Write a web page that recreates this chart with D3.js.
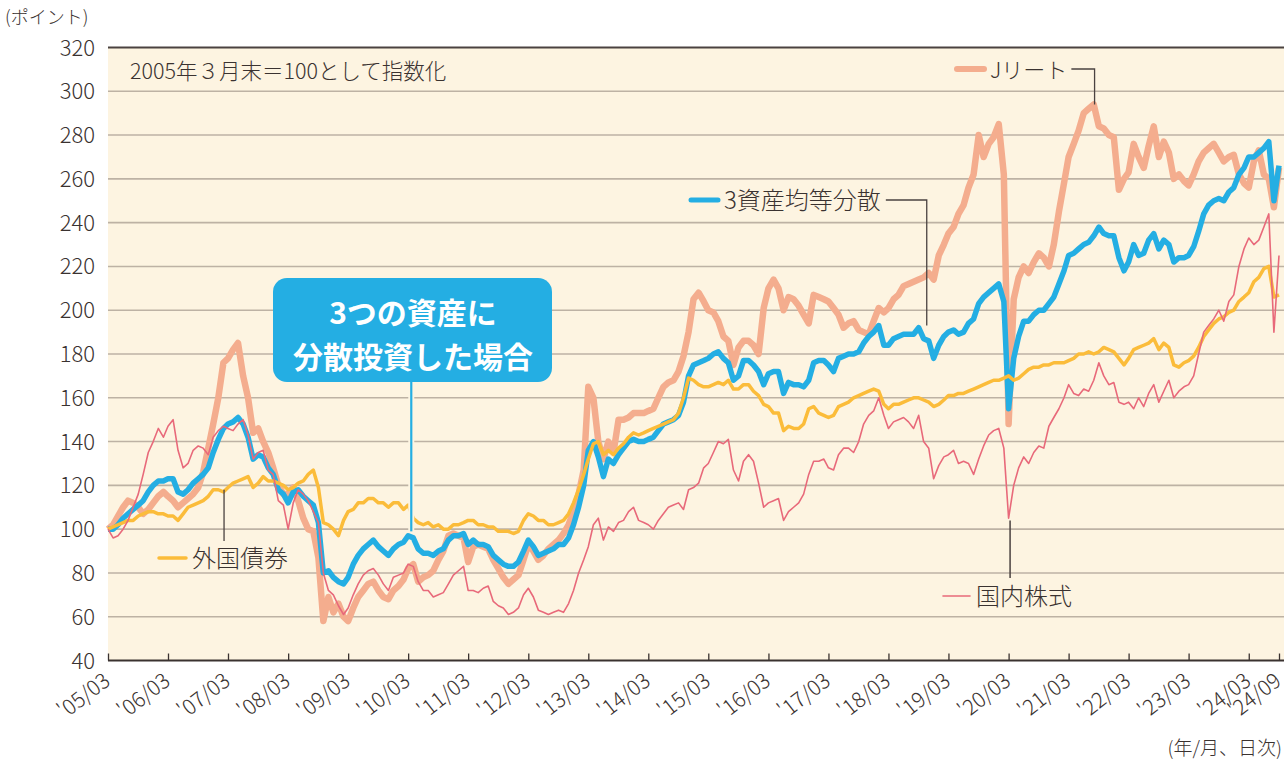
<!DOCTYPE html>
<html lang="ja">
<head>
<meta charset="utf-8">
<script src="https://cdn.jsdelivr.net/npm/d3@7"></script>
<style>
  body { margin: 0; background: #fff; }
  svg { display: block; font-family: "Noto Sans CJK JP", "Noto Sans", sans-serif; font-weight: 300; }
</style>
</head>
<body>
<svg id="chart"></svg>
<script>
// monthly values, 2005/03 .. 2024/09 (index, 2005/03 = 100)
// one row per year, March -> February
const jreit = [
  100,102,106,110,113,112,110,107,109,112,115,117,
  115,113,110,112,114,116,119,126,137,148,160,176,
  178,182,185,170,160,144,146,140,135,128,120,116,
  116,119,113,105,100,99,87,58,69,62,66,60,
  58,64,69,72,75,76,72,69,68,72,74,77,
  82,84,76,78,79,81,86,90,97,98,97,96,
  85,92,93,92,91,86,82,78,75,77,79,86,
  93,90,86,88,91,93,95,98,102,108,116,127,
  165,160,140,132,140,135,150,150,151,153,153,153,
  154,155,160,165,167,168,172,179,190,205,208,204,
  200,199,195,188,186,175,183,186,186,184,180,201,
  210,214,210,200,206,205,202,198,194,207,206,205,
  204,201,198,192,194,195,191,190,189,195,201,199,
  201,205,207,211,212,213,214,215,217,214,225,230,
  235,238,244,248,256,262,280,270,276,279,285,262,
  148,205,215,220,217,222,226,224,220,230,245,258,
  270,276,282,290,292,294,284,283,280,279,255,260,
  263,276,270,265,275,284,270,277,272,260,262,259,
  257,262,268,272,274,276,272,268,270,271,262,258,
  256,268,273,262,260,247,265
];

const balanced = [
  100,100,102,105,107,109,111,113,117,120,122,122,
  123,123,117,116,118,121,123,125,128,135,141,146,
  148,149,151,148,142,132,134,133,128,125,118,116,
  112,117,118,115,113,111,103,80,81,78,76,75,
  78,84,88,91,93,95,92,90,88,91,93,94,
  97,96,91,89,89,88,90,91,95,97,97,98,
  93,95,93,93,92,88,86,84,83,83,85,90,
  95,92,88,89,90,91,93,93,96,102,110,120,
  136,140,133,124,132,130,134,137,140,141,140,140,
  141,142,145,148,149,150,152,158,170,175,176,177,
  178,180,181,178,176,168,170,177,177,175,172,166,
  171,172,172,162,167,166,166,165,168,176,177,177,
  175,172,178,179,180,180,181,185,188,190,193,184,
  184,187,188,189,189,189,192,187,186,178,184,188,
  190,191,189,190,194,196,203,206,208,210,212,204,
  155,178,188,195,195,198,200,200,203,206,212,218,
  225,226,228,230,231,234,238,235,234,234,224,218,
  222,230,225,226,232,235,228,232,230,222,224,224,
  225,229,236,244,248,250,251,250,254,256,262,265,
  270,270,272,274,277,250,266
];

const foreignBond = [
  100,101,102,103,104,104,106,107,108,108,107,107,
  106,106,104,107,110,111,112,113,115,118,118,117,
  119,121,122,123,124,119,121,124,122,122,121,120,
  118,119,121,122,125,127,119,103,102,100,97,104,
  108,109,112,112,114,114,112,112,110,112,112,109,
  111,105,103,102,103,101,102,100,100,102,102,103,
  104,104,102,102,101,101,99,99,99,98,99,104,
  107,106,104,104,102,102,103,104,107,112,118,125,
  132,139,140,134,136,134,137,139,142,144,143,144,
  145,146,147,148,149,150,153,160,169,168,166,165,
  165,166,167,166,168,164,164,166,166,163,161,157,
  156,153,153,145,147,146,146,148,155,156,153,152,
  151,152,156,157,158,160,161,162,163,164,163,157,
  155,157,157,158,159,160,160,159,158,156,157,159,
  161,161,162,162,163,164,165,166,167,168,168,169,
  170,168,169,171,173,174,174,175,175,176,176,176,
  177,178,180,180,181,180,181,183,182,181,178,175,
  178,182,183,184,185,187,182,185,183,175,174,176,
  177,179,183,188,191,194,196,197,199,200,204,206,
  208,213,215,219,220,206,207
];

const domesticStock = [
  100,96,97,100,104,110,116,125,135,140,146,142,
  147,150,136,128,130,136,138,137,134,142,145,147,
  146,145,148,150,143,132,135,136,127,125,113,111,
  100,112,118,116,113,108,103,80,72,70,65,61,
  64,70,75,79,81,82,79,75,72,78,79,80,
  84,83,76,72,72,69,70,71,75,79,81,83,
  72,72,71,73,74,67,65,64,61,62,64,70,
  73,69,63,62,61,62,63,62,66,72,80,86,
  92,102,105,95,101,99,103,104,108,110,104,103,
  102,100,104,107,110,111,112,109,118,119,121,128,
  130,135,140,139,141,127,122,131,134,131,121,110,
  112,113,114,104,108,110,112,116,125,131,131,132,
  128,127,134,137,137,135,140,148,152,154,160,152,
  146,149,150,151,149,146,152,140,137,123,129,133,
  134,136,130,131,130,125,132,138,143,145,146,137,
  105,120,128,133,130,135,138,137,147,151,155,160,
  166,162,161,164,163,168,176,170,166,167,158,157,
  158,155,160,156,162,166,158,163,168,160,163,165,
  166,170,180,190,193,196,200,195,204,207,220,228,
  233,230,232,238,244,190,225
];

const xTickLabels = ["'05/03","'06/03","'07/03","'08/03","'09/03","'10/03","'11/03","'12/03",
  "'13/03","'14/03","'15/03","'16/03","'17/03","'18/03","'19/03","'20/03","'21/03",
  "'22/03","'23/03","'24/03","'24/09"];
const yTicks = [40,60,80,100,120,140,160,180,200,220,240,260,280,300,320];

const months = d3.range(jreit.length).map(i => d3.timeMonth.offset(new Date(2005, 2, 1), i));
const parseTick = s => new Date(2000 + +s.slice(1, 3), +s.slice(4, 6) - 1, 1);

const W = 1285, H = 762;
const plot = { left: 108, right: 1284, top: 47.5, bottom: 660.5 };

const svg = d3.select('#chart').attr('width', W).attr('height', H);

const x = d3.scaleTime()
  .domain([months[0], months[months.length - 1]])
  .range([plot.left, 1279]);
const y = d3.scaleLinear()
  .domain([40, 320])
  .range([plot.bottom, plot.top]);

const ink = '#3a3230';

// plot background
svg.append('rect')
  .attr('x', plot.left).attr('y', plot.top)
  .attr('width', plot.right - plot.left).attr('height', plot.bottom - plot.top)
  .attr('fill', '#fdf4e1');

// grid lines
svg.append('g').selectAll('line')
  .data(yTicks.filter(d => d > 40 && d < 320))
  .join('line')
  .attr('x1', plot.left).attr('x2', plot.right)
  .attr('y1', d => y(d)).attr('y2', d => y(d))
  .attr('stroke', '#bdb2a4').attr('stroke-width', 1.6);

// top border
svg.append('line')
  .attr('x1', plot.left).attr('x2', plot.right)
  .attr('y1', y(320)).attr('y2', y(320))
  .attr('stroke', '#4a4240').attr('stroke-width', 2);

// y labels
svg.append('g').selectAll('text')
  .data(yTicks)
  .join('text')
  .attr('x', 95).attr('y', d => y(d) + 8)
  .attr('text-anchor', 'end')
  .attr('font-size', 22)
  .attr('fill', ink)
  .text(d => d);

// x axis
const xAxis = d3.axisBottom(x)
  .tickValues(xTickLabels.map(parseTick))
  .tickSize(-7)
  .tickFormat((d, i) => xTickLabels[i]);

const xg = svg.append('g')
  .attr('transform', `translate(0,${plot.bottom})`)
  .call(xAxis);
xg.select('.domain').remove();
xg.selectAll('.tick line').attr('stroke', ink).attr('stroke-width', 1.3);
xg.selectAll('.tick text')
  .attr('fill', ink)
  .attr('font-size', 21)
  .attr('font-family', '"Noto Sans CJK JP", "Noto Sans", sans-serif')
  .attr('font-weight', 300)
  .attr('text-anchor', 'end')
  .attr('dy', 0).attr('y', 0)
  .attr('transform', 'translate(3,23) rotate(-38)');
svg.append('line')
  .attr('x1', plot.left).attr('x2', plot.right)
  .attr('y1', plot.bottom).attr('y2', plot.bottom)
  .attr('stroke', ink).attr('stroke-width', 2.2);

// series
const line = d3.line()
  .x((d, i) => x(months[i]))
  .y(d => y(d))
  .curve(d3.curveLinear);

const series = [
  { values: jreit, color: '#f4ad8e', width: 6.5 },
  { values: balanced, color: '#24aee3', width: 5.5 },
  { values: foreignBond, color: '#fbbc3a', width: 3.5 },
  { values: domesticStock, color: '#e8697a', width: 1.6 }
];

svg.append('g').selectAll('path')
  .data(series)
  .join('path')
  .attr('d', d => line(d.values))
  .attr('fill', 'none')
  .attr('stroke', d => d.color)
  .attr('stroke-width', d => d.width)
  .attr('stroke-linejoin', 'round');

// notes
svg.append('text')
  .attr('x', 5).attr('y', 24)
  .attr('font-size', 18).attr('fill', ink)
  .text('(ポイント)');
svg.append('text')
  .attr('x', 130).attr('y', 79)
  .attr('font-size', 21.5).attr('fill', ink)
  .text('2005年３月末＝100として指数化');
svg.append('text')
  .attr('x', 1282).attr('y', 755)
  .attr('text-anchor', 'end')
  .attr('font-size', 19).attr('fill', ink)
  .text('(年/月、日次)');

// series labels with leader lines
const leader = '#4a4240';

function label(opt) {
  const g = svg.append('g');
  g.append('line')
    .attr('x1', opt.mx).attr('x2', opt.mx + 27)
    .attr('y1', opt.ly).attr('y2', opt.ly)
    .attr('stroke', opt.color).attr('stroke-width', opt.width)
    .attr('stroke-linecap', 'round');
  const t = g.append('text')
    .attr('x', opt.mx + 33).attr('y', opt.ly + 8.5)
    .attr('font-size', opt.size || 24).attr('fill', ink)
    .text(opt.text);
  return t;
}

// Jリート
let t = label({ text: 'Jリート', mx: 957, ly: 69, color: '#f4ad8e', width: 6, size: 22 });
let tEnd = 990 + t.node().getComputedTextLength() + 4;
let px = x(new Date(2021, 7, 6));
svg.append('path')
  .attr('d', `M${tEnd},69 H${px} V${y(294)}`)
  .attr('fill', 'none').attr('stroke', leader).attr('stroke-width', 1.3);

// 3資産均等分散
t = label({ text: '3資産均等分散', mx: 691, ly: 200, color: '#24aee3', width: 5 });
tEnd = 724 + t.node().getComputedTextLength() + 5;
px = x(new Date(2018, 9, 20));
svg.append('path')
  .attr('d', `M${tEnd},200 H${px} V${y(193)}`)
  .attr('fill', 'none').attr('stroke', leader).attr('stroke-width', 1.3);

// 外国債券
label({ text: '外国債券', mx: 159, ly: 558, color: '#fbbc3a', width: 3.5 });
px = x(new Date(2007, 1, 5));
svg.append('line')
  .attr('x1', px).attr('x2', px)
  .attr('y1', 541).attr('y2', y(118))
  .attr('stroke', leader).attr('stroke-width', 1.3);

// 国内株式
label({ text: '国内株式', mx: 943, ly: 596, color: '#e8697a', width: 1.6 });
px = x(new Date(2020, 2, 10));
svg.append('line')
  .attr('x1', px).attr('x2', px)
  .attr('y1', 578).attr('y2', y(104))
  .attr('stroke', leader).attr('stroke-width', 1.5);

// callout
const cx = x(new Date(2010, 2, 20));
svg.append('line')
  .attr('x1', cx).attr('x2', cx)
  .attr('y1', 380).attr('y2', y(99))
  .attr('stroke', '#fdf4e1').attr('stroke-width', 6);
svg.append('line')
  .attr('x1', cx).attr('x2', cx)
  .attr('y1', 380).attr('y2', y(99))
  .attr('stroke', '#24aee3').attr('stroke-width', 2.2);
svg.append('rect')
  .attr('x', 273).attr('y', 278)
  .attr('width', 279).attr('height', 104)
  .attr('rx', 14)
  .attr('fill', '#24aee3');
svg.append('text')
  .attr('x', 413).attr('y', 324)
  .attr('text-anchor', 'middle')
  .attr('font-size', 30).attr('font-weight', 'bold').attr('fill', '#fff')
  .text('3つの資産に');
svg.append('text')
  .attr('x', 413).attr('y', 368)
  .attr('text-anchor', 'middle')
  .attr('font-size', 30).attr('font-weight', 'bold').attr('fill', '#fff')
  .text('分散投資した場合');
</script>
</body>
</html>
